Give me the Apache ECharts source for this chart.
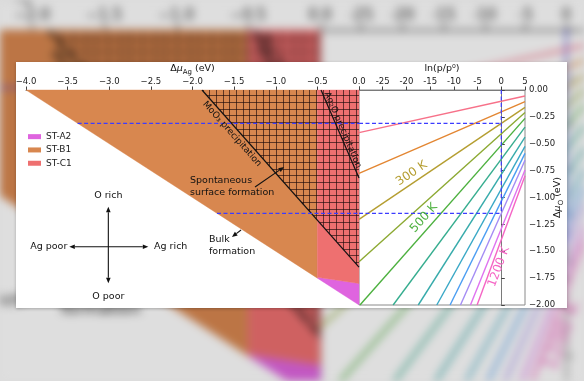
<!DOCTYPE html>
<html><head><meta charset="utf-8">
<script src="https://cdn.jsdelivr.net/npm/echarts/dist/echarts.min.js"></script>
<style>
html,body{margin:0;padding:0;width:584px;height:381px;overflow:hidden;background:#dcdcdc;}
#bgwrap{position:absolute;left:0;top:0;width:584px;height:381px;overflow:hidden;filter:blur(4.5px) brightness(0.87);}
#bg{position:absolute;left:0;top:0;width:551px;height:246px;transform-origin:0 0;transform:translate(-273.3px,-18.4px) scale(1.73);background:#fff;}
#fg{position:absolute;left:16px;top:62px;width:551px;height:246px;background:#fff;box-shadow:0 1px 3px rgba(0,0,0,0.25);}
</style></head>
<body>
<div id="bgwrap"><div id="bg"></div></div>
<div id="fg"></div>
<script>
// ---------- data ----------
const regionNames = ['ST-A2', 'ST-B1', 'ST-C1'];
const regionA2 = [[-0.5, -1.742], [0, -1.80], [0, -2], [-0.5, -1.75]];
const regionB1 = [[-4, 0], [-0.5, 0], [-0.5, -1.75]];
const regionC1 = [[-0.5, 0], [0, 0], [0, -1.80], [-0.5, -1.742]];
const hatchRegion = [[-1.886, 0], [0, 0], [0, -1.647]];
const moo3Line = [[-1.886, 0], [0, -1.647]];
const ag2oLine = [[-0.456, 0], [0, -0.819]];

const dashLeftUpper = [[-3.38, -0.31], [0, -0.31]];
const dashLeftLower = [[-1.706, -1.147], [0, -1.147]];
const dashRightUpper = [[-30, -0.31], [0, -0.31]];
const dashRightLower = [[-30, -1.147], [0, -1.147]];
const dashRightVert = [[0, 0], [0, -1.147]];

const temps = [100, 200, 300, 400, 500, 600, 700, 800, 900, 1000, 1100, 1200];
const tempColors = ['#f77189', '#e38632', '#b59e31', '#8ca932', '#4cb03e', '#36ad8f', '#37abab',
                    '#39a8c6', '#4a9df2', '#a48cf4', '#df72f0', '#f565c5'];
const tempLineStart = [[-30, -0.397], [-30, -0.775], [-30, -1.203], [-30, -1.597], [-29.8, -2],
                       [-22.8, -2], [-17.5, -2], [-13.6, -2], [-10.8, -2], [-8.6, -2], [-6.5, -2], [-5.1, -2]];
const tempLineEnd = [[5, -0.056], [5, -0.109], [5, -0.161], [5, -0.209], [5, -0.264], [5, -0.345],
                     [5, -0.438], [5, -0.524], [5, -0.590], [5, -0.654], [5, -0.745], [5, -0.798]];
const tempLabelText = ['300 K', '500 K', '1200 K'];
const tempLabelLine = [2, 4, 11];
const tempLabelPos = [[-18.9, -0.777], [-16.3, -1.19], [-0.48, -1.644]];

const noteText = ['Spontaneous\nsurface formation', 'Bulk\nformation', 'O rich', 'O poor', 'Ag poor', 'Ag rich',
                  'MoO\u2083 precipitation', 'Ag\u2082O precipitation'];
const notePos = [[-2.03, -0.900], [-1.802, -1.449], [-3.011, -0.986], [-3.011, -1.923], [-3.504, -1.458],
                 [-2.462, -1.458], [-1.525, -0.409], [-0.196, -0.372]];
const noteAlign = ['left', 'left', 'center', 'center', 'right', 'left', 'center', 'center'];
const noteAlongLine = [null, null, null, null, null, null, moo3Line, ag2oLine];

const arrowFrom = [[-1.249, -0.902], [-1.417, -1.302], [-3.480, -1.458], [-3.011, -1.086]];
const arrowTo = [[-0.901, -0.716], [-1.526, -1.367], [-2.531, -1.458], [-3.011, -1.798]];
const arrowBoth = [false, false, true, true];

// ---------- chart ----------
const FONT = 'DejaVu Sans';
const regionColors = ['#df64df', '#d8874f', '#ee7070'];

function makeHatch() {
  const c = document.createElement('canvas');
  c.width = 20; c.height = 20;
  const g = c.getContext('2d');
  g.strokeStyle = 'rgba(30,10,10,0.65)';
  g.lineWidth = 1;
  [0, 7, 13].forEach(v => {
    g.beginPath(); g.moveTo(v + 0.5, 0); g.lineTo(v + 0.5, 20); g.stroke();
    g.beginPath(); g.moveTo(0, v + 0.5); g.lineTo(20, v + 0.5); g.stroke();
  });
  return c;
}

function makeOption() {
  const hatch = makeHatch();
  const series = [];
  const regions = [regionA2, regionB1, regionC1];
  regionNames.forEach((name, i) => {
    series.push({
      type: 'custom', name: name, xAxisIndex: 0, yAxisIndex: 0, z: 1, silent: true,
      itemStyle: { color: regionColors[i] },
      data: [[regions[i][0][0], regions[i][0][1]]],
      renderItem: (params, api) => ({
        type: 'polygon',
        shape: { points: regions[i].map(p => api.coord(p)) },
        style: { fill: regionColors[i], stroke: regionColors[i], lineWidth: 0.4 }
      })
    });
  });
  series.push({
    type: 'custom', name: 'hatch', xAxisIndex: 0, yAxisIndex: 0, z: 2, silent: true,
    data: [[hatchRegion[0][0], hatchRegion[0][1]]],
    renderItem: (params, api) => ({
      type: 'polygon',
      shape: { points: hatchRegion.map(p => api.coord(p)) },
      style: { fill: { type: 'pattern', image: hatch, repeat: 'repeat' } }
    })
  });
  [moo3Line, ag2oLine].forEach(d => series.push({
    type: 'line', xAxisIndex: 0, yAxisIndex: 0, z: 3, data: d, showSymbol: false, symbol: 'none', silent: true,
    lineStyle: { color: '#111', width: 1.2 }
  }));
  const dashStyle = { color: '#3c3cff', width: 1.2, type: [4, 2.5] };
  [dashLeftUpper, dashLeftLower].forEach(d => series.push({
    type: 'line', xAxisIndex: 0, yAxisIndex: 0, z: 4, data: d, symbol: 'none', silent: true, lineStyle: dashStyle
  }));
  [dashRightUpper, dashRightLower, dashRightVert].forEach(d => series.push({
    type: 'line', xAxisIndex: 1, yAxisIndex: 1, z: 4, data: d, symbol: 'none', silent: true, lineStyle: dashStyle
  }));
  temps.forEach((t, i) => series.push({
    type: 'line', name: t + ' K', xAxisIndex: 1, yAxisIndex: 1, z: 3, symbol: 'none', silent: true,
    data: [tempLineStart[i], tempLineEnd[i]],
    lineStyle: { color: tempColors[i], width: 1.4 }
  }));
  series.push({
    type: 'custom', name: 'tlabels', xAxisIndex: 1, yAxisIndex: 1, z: 6, silent: true,
    data: tempLabelPos.map(p => [p[0], p[1]]),
    renderItem: (params, api) => {
      const i = params.dataIndex;
      const li = tempLabelLine[i];
      const a = api.coord(tempLineStart[li]), b = api.coord(tempLineEnd[li]);
      const p = api.coord(tempLabelPos[i]);
      return {
        type: 'text', x: p[0], y: p[1], rotation: Math.atan2(a[1] - b[1], b[0] - a[0]),
        style: { text: tempLabelText[i], fill: tempColors[li], fontSize: 12, fontFamily: FONT,
                 align: 'center', verticalAlign: 'middle' }
      };
    }
  });
  series.push({
    type: 'custom', name: 'notes', xAxisIndex: 0, yAxisIndex: 0, z: 6, silent: true,
    data: notePos.map(p => [p[0], p[1]]),
    renderItem: (params, api) => {
      const i = params.dataIndex;
      const p = api.coord(notePos[i]);
      let rot = 0;
      if (noteAlongLine[i]) {
        const a = api.coord(noteAlongLine[i][0]), b = api.coord(noteAlongLine[i][1]);
        rot = Math.atan2(a[1] - b[1], b[0] - a[0]);
      }
      return {
        type: 'text', x: p[0], y: p[1], rotation: rot,
        style: { text: noteText[i], fill: '#111', fontSize: noteAlongLine[i] ? 9 : 9.5, fontFamily: FONT,
                 align: noteAlign[i], verticalAlign: 'middle', lineHeight: 11.5 }
      };
    }
  });
  series.push({
    type: 'custom', name: 'arrows', xAxisIndex: 0, yAxisIndex: 0, z: 6, silent: true,
    data: arrowFrom.map(p => [p[0], p[1]]),
    renderItem: (params, api) => {
      const i = params.dataIndex;
      const a = api.coord(arrowFrom[i]), b = api.coord(arrowTo[i]);
      const dx = b[0] - a[0], dy = b[1] - a[1], L = Math.hypot(dx, dy), ux = dx / L, uy = dy / L;
      const hl = 5.5, hw = 2.3;
      const head = (tip, sx, sy) => ({
        type: 'polygon',
        shape: { points: [[tip[0], tip[1]],
          [tip[0] - sx * hl - sy * hw, tip[1] - sy * hl + sx * hw],
          [tip[0] - sx * hl + sy * hw, tip[1] - sy * hl - sx * hw]] },
        style: { fill: '#111' }
      });
      const s = arrowBoth[i] ? [a[0] + ux * hl, a[1] + uy * hl] : a;
      const e = [b[0] - ux * hl, b[1] - uy * hl];
      const children = [{ type: 'line', shape: { x1: s[0], y1: s[1], x2: e[0], y2: e[1] },
                          style: { stroke: '#111', lineWidth: 1.1 } }, head(b, ux, uy)];
      if (arrowBoth[i]) children.push(head(a, -ux, -uy));
      return { type: 'group', children: children };
    }
  });

  const nameRich = {
    d: { fontSize: 9.5, lineHeight: 15, fontFamily: FONT, color: '#111' },
    m: { fontSize: 9.5, lineHeight: 15, fontFamily: FONT, color: '#111', fontStyle: 'italic' },
    s: { fontSize: 7, lineHeight: 9, fontFamily: FONT, color: '#111', verticalAlign: 'bottom' },
    a: { fontSize: 9.5, lineHeight: 15, fontFamily: FONT, color: '#111' }
  };
  const axLine = { show: true, lineStyle: { color: '#7a7a7a', width: 1 } };
  const axTick = { show: true, length: 3.5, lineStyle: { color: '#444', width: 1 } };
  const lab = { fontSize: 8.5, color: '#222', fontFamily: FONT, margin: 4, showMinLabel: true, showMaxLabel: true, hideOverlap: false };
  return {
    animation: false,
    textStyle: { fontFamily: FONT },
    legend: {
      data: regionNames, orient: 'vertical', left: 12, top: 68, padding: 0, itemWidth: 13, itemHeight: 5,
      itemGap: 0, icon: 'rect', selectedMode: false,
      textStyle: { fontSize: 9, color: '#222', fontFamily: FONT, lineHeight: 13.3 }
    },
    grid: [
      { left: 10, top: 28, width: 333, height: 215, show: false, containLabel: false, outerBoundsMode: 'none' },
      { left: 343, top: 28, width: 166, height: 215, show: true, borderColor: '#8a8a8a', borderWidth: 1,
        backgroundColor: 'rgba(0,0,0,0)', containLabel: false, outerBoundsMode: 'none' }
    ],
    xAxis: [
      { type: 'value', gridIndex: 0, position: 'top', min: -4, max: 0, interval: 0.5,
        axisLine: axLine, axisTick: axTick, splitLine: { show: false },
        axisLabel: Object.assign({}, lab, { formatter: v => v.toFixed(1).replace('-', '\u2212') }),
        name: '{d|\u0394}{m|\u03bc}{s|Ag}{a| (eV)}', nameLocation: 'middle', nameGap: 14, nameMoveOverlap: false,
        nameTextStyle: { rich: nameRich } },
      { type: 'value', gridIndex: 1, position: 'top', min: -30, max: 5, interval: 5,
        axisLine: axLine, axisTick: axTick, splitLine: { show: false },
        axisLabel: Object.assign({}, lab, { formatter: v => (v === -30 ? '' : String(v)) }),
        name: 'ln(p/p\u2070)', nameLocation: 'middle', nameGap: 14, nameMoveOverlap: false,
        nameTextStyle: { fontSize: 9.5, color: '#111', fontFamily: FONT, lineHeight: 15 } }
    ],
    yAxis: [
      { type: 'value', gridIndex: 0, min: -2, max: 0, show: false },
      { type: 'value', gridIndex: 1, position: 'right', min: -2, max: 0, interval: 0.25,
        axisLine: axLine, axisTick: axTick, splitLine: { show: false },
        axisLabel: Object.assign({}, lab, { formatter: v => v.toFixed(2).replace('-', '\u2212') }),
        name: '{d|\u0394}{m|\u03bc}{s|O}{a| (eV)}', nameLocation: 'middle', nameRotate: 90, nameGap: 25,
        nameMoveOverlap: false, nameTextStyle: { rich: nameRich } }
    ],
    series: series
  };
}

echarts.init(document.getElementById('bg'), null, { renderer: 'canvas' }).setOption(makeOption());
echarts.init(document.getElementById('fg'), null, { renderer: 'canvas' }).setOption(makeOption());
</script>
</body></html>
